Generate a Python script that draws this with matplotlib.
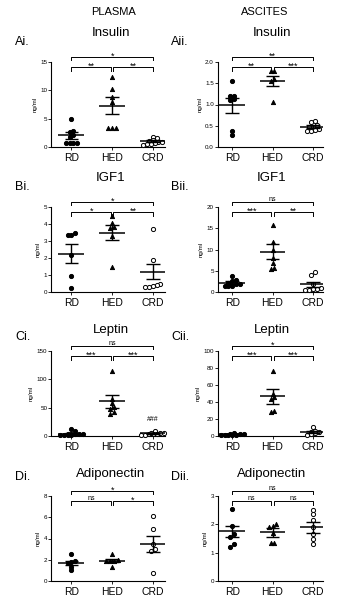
import matplotlib
matplotlib.use("Agg")
import matplotlib.pyplot as plt
import matplotlib.transforms as mtransforms
import numpy as np

plt.rcParams.update({
    "font.family": "sans-serif", "font.sans-serif": ["Liberation Sans", "DejaVu Sans"],
    "axes.linewidth": 0.8, "xtick.direction": "out", "ytick.direction": "out",
})

W, H = 350, 599
GROUPS = ["RD", "HED", "CRD"]

# ---- data (ng/ml) ----
# each panel: (RD, HED, CRD) points, then mean and SEM per group
INS_PL = ([4.9, 2.9, 2.7, 2.2, 1.8, 0.7, 0.7, 0.7, 0.7],
          [12.3, 10.2, 8.9, 7.9, 3.4, 3.3, 3.3],
          [1.7, 1.6, 1.3, 1.1, 0.9, 0.8, 0.7, 0.6, 0.5, 0.4])
INS_PL_MEAN = [2.1, 7.3, 1.0]
INS_PL_SEM = [0.6, 1.5, 0.15]

INS_AS = ([1.55, 1.21, 1.2, 1.12, 1.1, 0.38, 0.28],
          [1.8, 1.8, 1.6, 1.55, 1.05],
          [0.62, 0.58, 0.52, 0.48, 0.47, 0.42, 0.40, 0.38, 0.37])
INS_AS_MEAN = [0.98, 1.56, 0.48]
INS_AS_SEM = [0.18, 0.12, 0.03]

IGF_PL = ([3.45, 3.35, 3.35, 2.15, 0.95, 0.25],
          [4.45, 4.05, 3.85, 3.75, 3.3, 1.5],
          [3.7, 1.9, 0.45, 0.4, 0.35, 0.3, 0.3])
IGF_PL_MEAN = [2.25, 3.5, 1.2]
IGF_PL_SEM = [0.55, 0.45, 0.45]

IGF_AS = ([3.8, 2.8, 2.6, 2.2, 2.0, 1.8, 1.5, 1.4, 1.3],
          [15.7, 11.8, 9.8, 8.0, 6.8, 5.6, 5.4],
          [4.6, 4.0, 2.0, 1.0, 0.8, 0.6, 0.5, 0.4])
IGF_AS_MEAN = [2.2, 9.5, 1.8]
IGF_AS_SEM = [0.3, 1.75, 0.6]

LEP_PL = ([13, 8, 4, 3.5, 3, 3, 2.5, 2.5, 2, 2, 3],
          [114, 65, 58, 52, 48, 42, 39],
          [8, 6, 5, 4, 3, 2, 2, 3, 6])
LEP_PL_MEAN = [4.0, 61, 5.0]
LEP_PL_SEM = [1.0, 11, 1.0]

LEP_AS = ([3.5, 2.5, 2.0, 1.8, 1.5, 1.2, 1.0, 1.0, 0.8],
          [77, 50, 46, 44, 30, 28],
          [11, 5.5, 5, 4.5, 3, 2, 1])
LEP_AS_MEAN = [1.8, 46.5, 4.5]
LEP_AS_SEM = [0.3, 8.5, 1.3]

ADI_PL = ([2.5, 1.9, 1.8, 1.7, 1.35, 1.0],
          [2.5, 2.0, 1.9, 1.9, 1.85, 1.35],
          [6.1, 4.9, 3.5, 3.0, 2.8, 0.75])
ADI_PL_MEAN = [1.7, 1.9, 3.5]
ADI_PL_SEM = [0.22, 0.15, 0.75]

ADI_AS = ([2.55, 1.95, 1.65, 1.55, 1.3, 1.2],
          [2.0, 1.95, 1.9, 1.7, 1.35, 1.35],
          [2.5, 2.35, 2.15, 1.9, 1.65, 1.5, 1.3])
ADI_AS_MEAN = [1.75, 1.72, 1.9]
ADI_AS_SEM = [0.2, 0.15, 0.2]


def swarm(vals, ppu_y, ppu_x, d=3.8, tol=0.8, maxrow=7):
    """Prism-like column scatter: points in the same row are spread symmetrically."""
    v = np.asarray(vals, float)
    order = np.argsort(v)
    off = np.zeros(len(v))
    rows, row = [], [order[0]]
    for i in order[1:]:
        if (v[i] - v[row[0]]) * ppu_y < d * tol and len(row) < maxrow:
            row.append(i)
        else:
            rows.append(row); row = [i]
    rows.append(row)
    for r in rows:
        for k, i in enumerate(r):
            off[i] = (k - (len(r) - 1) / 2) * d / ppu_x
    return off


def bracket(ax, x0, x1, y, txt, drop=0.04):
    tr = mtransforms.blended_transform_factory(ax.transData, ax.transAxes)
    ax.plot([x0, x0, x1, x1], [y - drop, y, y, y - drop], transform=tr,
            color="k", lw=0.7, clip_on=False)
    # asterisks sit high in the glyph box, so pull them down onto the line
    dy = -0.025 if "*" in txt else 0.015
    ax.text((x0 + x1) / 2, y + dy, txt, transform=tr, ha="center", va="baseline",
            fontsize=6.5 if "*" in txt else 5, clip_on=False)


def panel(ax, pts, mean, sem, ymax, ystep, stars, xlim, dec=0, ytop=1.06, ylow=0.94):
    ax.set_xlim(*xlim)
    ax.set_ylim(0, ymax)
    bb = ax.get_position()
    ppu_y = bb.height * H / ymax
    ppu_x = bb.width * W / (xlim[1] - xlim[0])
    styles = [dict(marker="o", fc="k"), dict(marker="^", fc="k"), dict(marker="o", fc="white")]
    for g, vals in enumerate(pts):
        off = swarm(vals, ppu_y, ppu_x)
        ax.scatter(g + off, vals, s=9, ec="k", lw=0.7, zorder=3, clip_on=False, **styles[g])
        m, s = mean[g], sem[g]
        ax.hlines(m, g - 0.32, g + 0.32, color="k", lw=1.1, zorder=4)
        ax.vlines(g, m - s, m + s, color="k", lw=1.0, zorder=4)
        ax.hlines([m - s, m + s], g - 0.17, g + 0.17, color="k", lw=1.0, zorder=4)
    bracket(ax, 0, 2, ytop, stars[0])
    bracket(ax, 0, 0.97, ylow, stars[1])
    bracket(ax, 1.03, 2, ylow, stars[2])
    ax.spines[["top", "right"]].set_visible(False)
    ticks = np.arange(0, ymax + ystep / 2, ystep)
    ax.set_yticks(ticks)
    ax.set_yticklabels([f"{t:.{dec}f}" for t in ticks])
    ax.set_xticks(range(3))
    ax.set_xticklabels(GROUPS)
    ax.tick_params(axis="y", length=2, width=0.6, labelsize=4.5, pad=1)
    ax.tick_params(axis="x", length=2, width=0.6, labelsize=7.5, pad=2)
    ax.set_ylabel("ng/ml", fontsize=4.5, labelpad=2)


fig = plt.figure(figsize=(W / 100, H / 100), dpi=100)

LEFT = (51.5 / W, (165 - 51.5) / W, (-0.49, 2.3))
RIGHT = (218 / W, (323 - 218) / W, (-0.35, 2.25))
ROW_BOTTOM = [147, 292, 436, 581]
AX_H = 85

def make_ax(col, row):
    x0, w, _ = col
    return fig.add_axes([x0, 1 - ROW_BOTTOM[row] / H, w, AX_H / H])

def ftext(px, py, s, **kw):
    fig.text(px / W, 1 - py / H, s, **kw)

ftext(113, 12, "PLASMA", ha="center", va="center", fontsize=8)
ftext(265, 12, "ASCITES", ha="center", va="center", fontsize=8)

rows = [
    ("Insulin", 33, 42, (INS_PL, INS_PL_MEAN, INS_PL_SEM, 15, 5, ["*", "**", "**"], 0),
     (INS_AS, INS_AS_MEAN, INS_AS_SEM, 2.0, 0.5, ["**", "**", "***"], 1)),
    ("IGF1", 178, 187, (IGF_PL, IGF_PL_MEAN, IGF_PL_SEM, 5, 1, ["*", "*", "**"], 0),
     (IGF_AS, IGF_AS_MEAN, IGF_AS_SEM, 20, 5, ["ns", "***", "**"], 0)),
    ("Leptin", 330, 337, (LEP_PL, LEP_PL_MEAN, LEP_PL_SEM, 150, 50, ["ns", "***", "***"], 0),
     (LEP_AS, LEP_AS_MEAN, LEP_AS_SEM, 100, 20, ["*", "***", "***"], 0)),
    ("Adiponectin", 474, 477, (ADI_PL, ADI_PL_MEAN, ADI_PL_SEM, 8, 2, ["*", "ns", "*"], 0),
     (ADI_AS, ADI_AS_MEAN, ADI_AS_SEM, 3, 1, ["ns", "ns", "ns"], 0)),
]
letters = "ABCD"

for r, (title, ty, ly, pl, asc) in enumerate(rows):
    for col, spec, tx, lx, suffix in ((LEFT, pl, 111, 15, "i."), (RIGHT, asc, 272, 171, "ii.")):
        ax = make_ax(col, r)
        pts, mean, sem, ymax, ystep, stars, dec = spec
        panel(ax, pts, mean, sem, ymax, ystep, stars, col[2], dec=dec)
        ftext(tx, ty, title, ha="center", va="center", fontsize=9.5)
        ftext(lx, ly, letters[r] + suffix, ha="left", va="center", fontsize=9)
        if r == 2 and col is LEFT:
            ax.text(2, 23, "###", ha="center", va="bottom", fontsize=5)

fig.savefig("out.png", dpi=100)
